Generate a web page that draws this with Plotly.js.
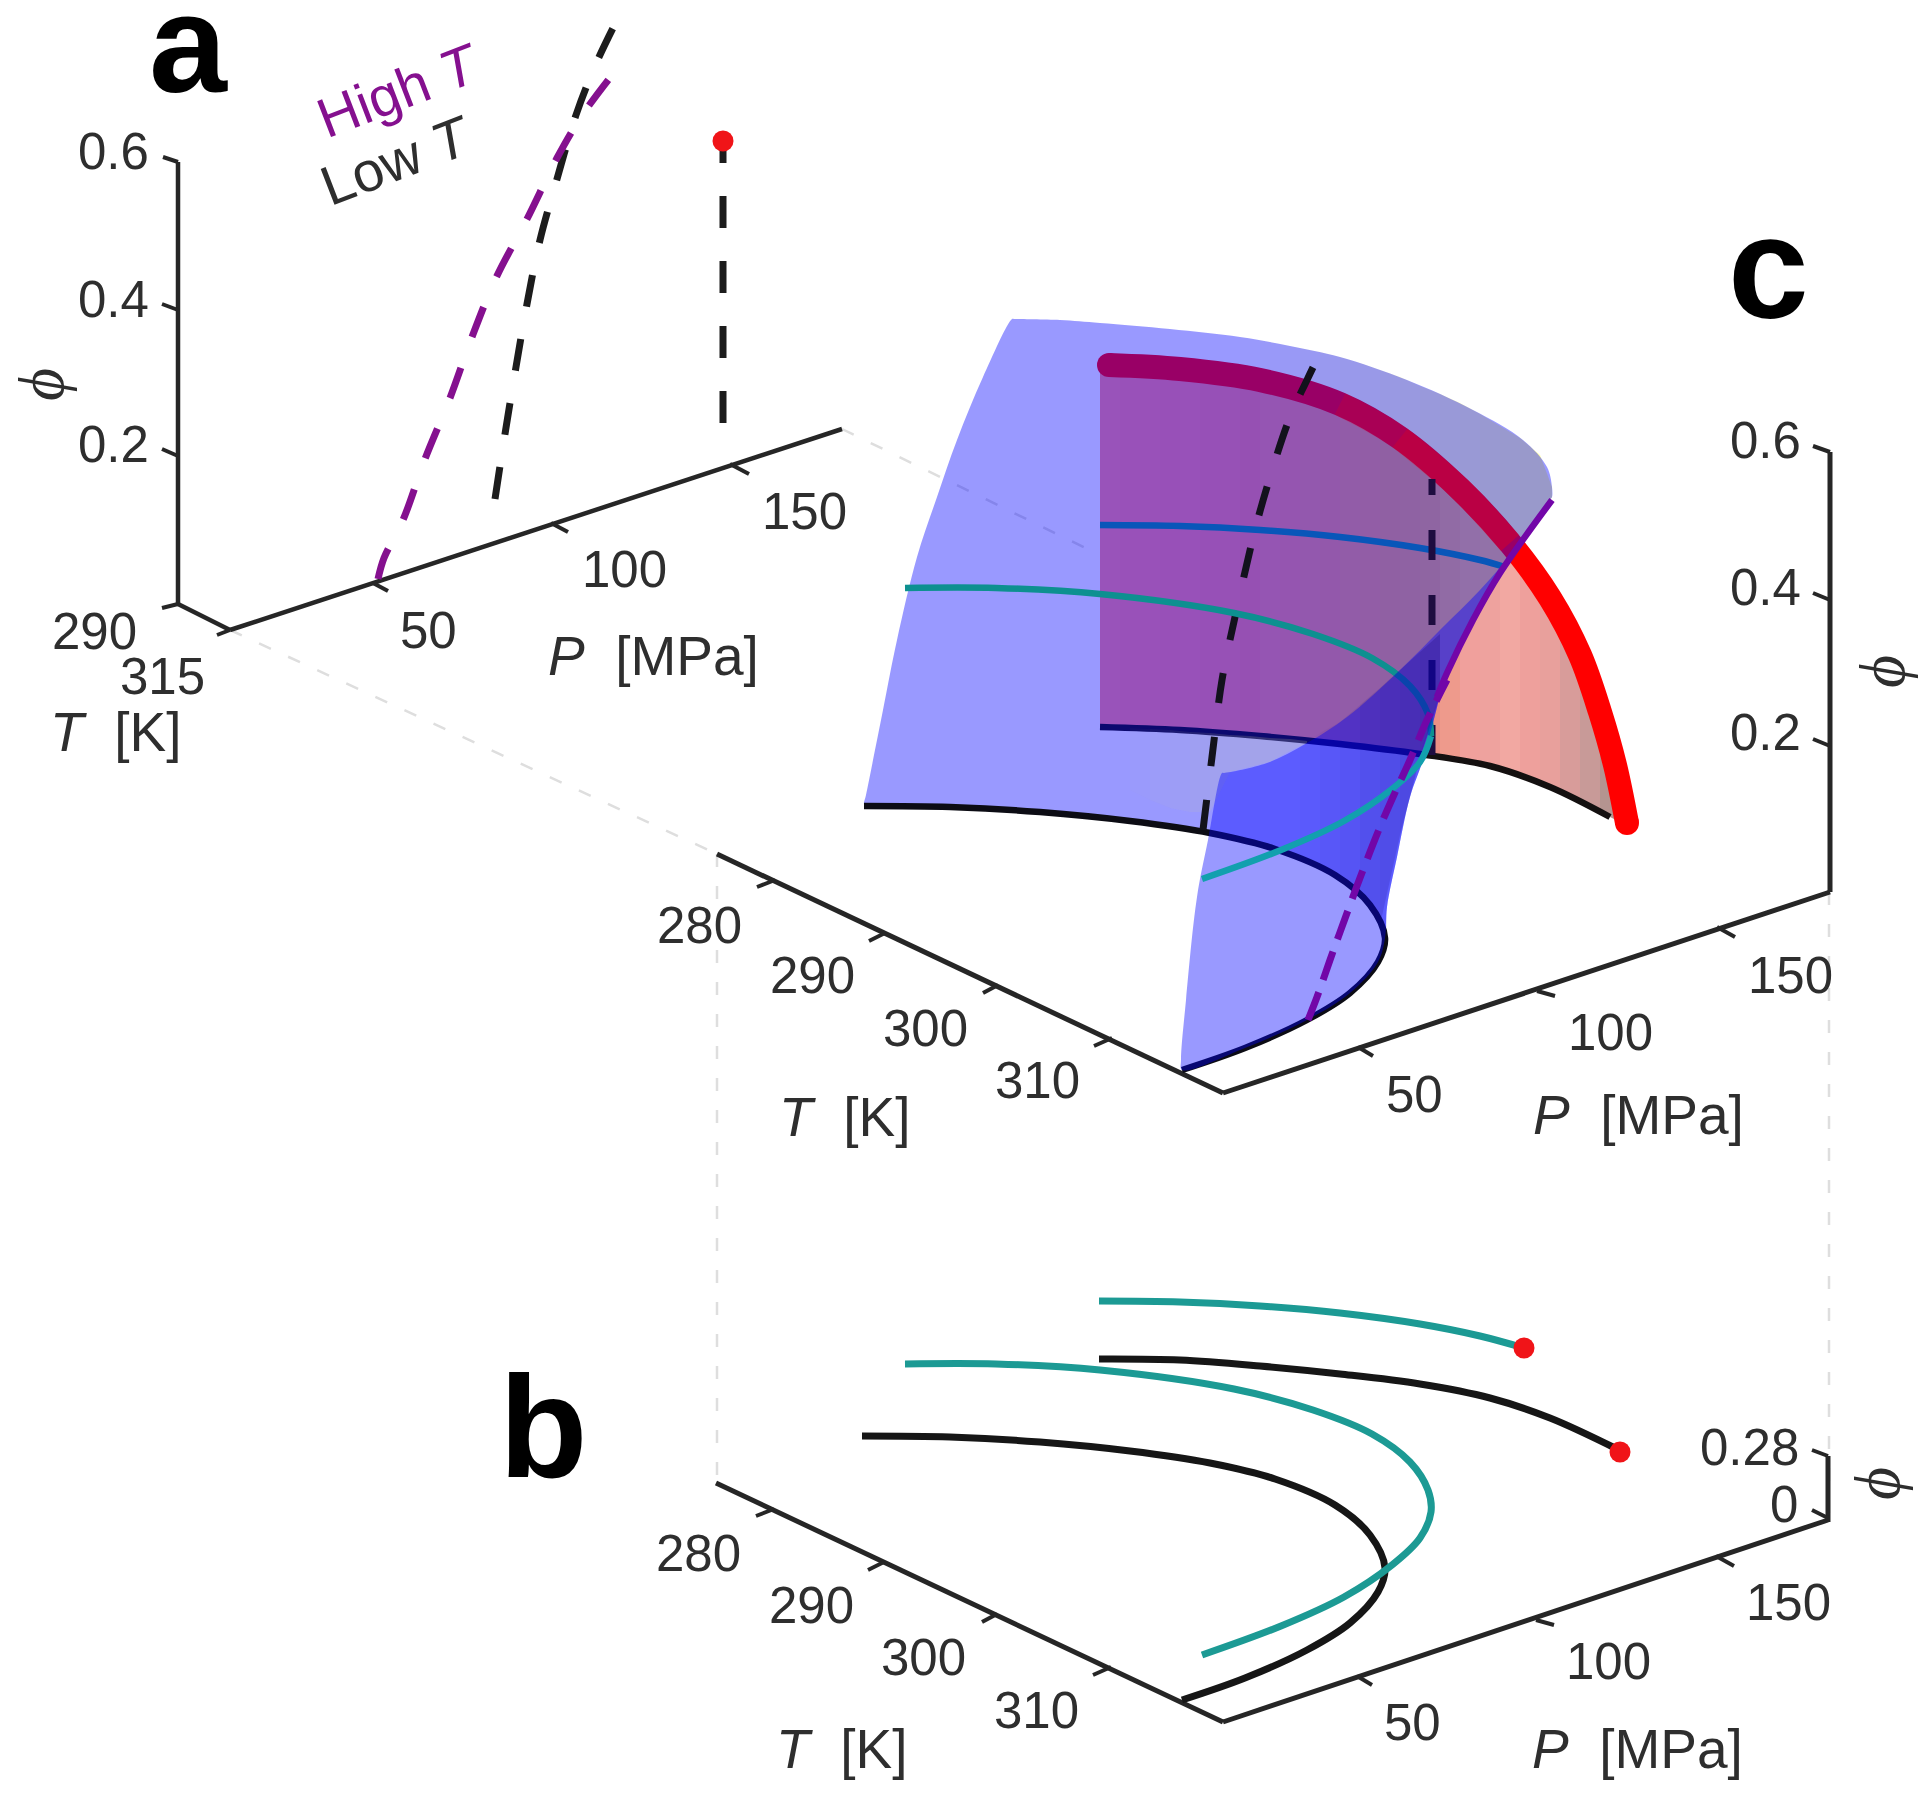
<!DOCTYPE html>
<html><head><meta charset="utf-8">
<script src="https://cdn.plot.ly/plotly-3.0.1.min.js"></script>
<style>html,body{margin:0;padding:0;background:#fff}#g{width:1920px;height:1793px;filter:blur(0.6px)}</style></head>
<body><div id="g"></div>
<script>
// ---- tick labels
const phiTicksA=['0.6','0.4','0.2'], phiTicksC=['0.6','0.4','0.2'], phiTicksB=['0.28','0'];
const pTicks=['50','100','150'], tTicksA=['290','315'], tTicksLong=['280','290','300','310'];

// ---- panel a: axes
const aPhiAxisX=[178,178], aPhiAxisY=[162,604];
const aTAxisX=[178,230], aTAxisY=[604,630];
const aPAxisX=[230,842], aPAxisY=[630,429];
const aTicksX=[163,178,null,162,178,null,162,178,null,162,178,null,217,230,null,373,388,null,551,568,null,730,749];
const aTicksY=[157,162,null,304,310,null,449,456,null,608,604,null,635,630,null,583,591,null,523,532,null,464,474];
// ---- panel a: curves
const aHighX=[378,384,403,425,450,472,496,527,557,581,609];
const aHighY=[579,558,520,459,398,337,278,219,158,117,79];
const aLowX=[495,505,516,527,540,557,576,595,613];
const aLowY=[499,434,367,304,240,179,115,66,28];
const aCritX=[723,723], aCritY=[423,141];

// ---- panel c: axes
const cTAxisX=[717,1223], cTAxisY=[854,1093];
const cPAxisX=[1223,1830], cPAxisY=[1093,892];
const cPhiAxisX=[1830,1830], cPhiAxisY=[892,452];
const cTicksX=[775,757,null,885,869,null,998,983,null,1112,1094,null,1358,1373,null,1537,1555,null,1717,1735,null,1813,1830,null,1813,1830,null,1813,1830];
const cTicksY=[880,887,null,933,941,null,985,993,null,1038,1046,null,1047,1056,null,991,996,null,927,937,null,446,452,null,593,600,null,739,746];
// ---- panel c: curtain under the critical line
const curtainX=[1100,1120,1140,1160,1180,1200,1220,1240,1260,1280,1300,1320,1340,1360,1380,1400,1420,1440,1460,1480,1500,1520,1540,1560,1580,1600,1620];
const curtainTop=[365,366,367,368,369,371,373,376,380,384,388,396,404,415,426,440,455,472,491,511,532,556,583,618,660,725,803];
const curtainBottom=[727,727,728,729,731,732,733,735,736,738,740,742,744,746,749,751,754,757,760,764,770,776,784,793,802,812,822];
const curtainColors=['#ff8a8c','#ff878b','#ff888a','#fe8689','#fd888a','#fc8588','#fc8786','#fa8484','#f98a86','#f88784','#f68a84','#f58782','#f28a80','#f18a7e','#ee8c7e','#ec8c80','#eb9084','#ee9a8c','#f0a09c','#eea29e','#f2a8a2','#eea09c','#e8a09c','#d89c9a','#c89a98','#b49490'];
// ---- panel c: sheets
const backSheetX=[1012,1014,1060,1100,1170,1240,1290,1340,1407,1473,1523,1547,1552,1552,1551,1523,1500,1473,1447,1433,1423,1410,1397,1387,1385,1373,1335,1275,1210,1130,1040,950,866,864,866,883,897,917,937,957,983,1012];
const backSheetY=[319,319,320,323,329,337,346,357,380,410,440,467,487,497,498,540,570,617,673,723,760,797,857,907,938,905,875,849,833,821,812,807,806,804,795,710,640,557,497,440,377,319];
const frontSheetX=[1552,1551,1523,1500,1473,1447,1433,1423,1410,1397,1387,1385,1378,1350,1307,1245,1182,1181,1186,1197,1208,1222,1224,1267,1307,1347,1400,1440,1480,1520,1552];
const frontSheetY=[497,498,540,570,617,673,723,760,797,857,907,938,962,993,1020,1048,1070,1060,1000,897,840,773,773,763,743,717,670,630,590,543,497];
// ---- panel c: yellow-grey tint columns under the back sheet
const tintX=[1240,1260,1280,1300,1320,1340,1360,1380,1400,1420,1440,1460,1480,1500,1520,1540,1552];
const tintTop=[337,340,344,348,352,357,363,370,377,386,394,403,414,426,438,455,487];
const tintBottom=[735,736,738,740,742,744,746,749,751,754,690,645,605,570,543,516,497];
const tintAlpha=[0.02,0.04,0.06,0.08,0.1,0.13,0.15,0.18,0.2,0.23,0.25,0.27,0.3,0.32,0.34,0.36];
const lilacX=[1130,1150,1170,1190,1210,1230,1250,1270,1290,1307];
const lilacTop=[728,729,730,732,733,735,736,738,739,741];
const lilacBottom=[790,800,808,812,812,772,767,762,751,743];
const lilacAlpha=[0.03,0.06,0.09,0.12,0.15,0.18,0.2,0.2,0.2];
// ---- panel c: darker fold columns on the front sheet
const indigoX=[1300,1320,1340,1360,1380,1400,1420,1440];
const indigoTop=[746,733,722,705,688,670,652,634];
const indigoBottom=[862,867,877,895,925,835,758,695];
const indigoAlpha=[0.02,0.05,0.08,0.12,0.16,0.2,0.24];
// ---- panel c: curves
const cRedX=[1109,1180,1260,1340,1400,1460,1510,1550,1580,1600,1615,1627];
const cRedY=[365,369,380,404,438,489,543,598,655,712,765,823];
const cRedGlowAX=[1340,1400,1460,1510], cRedGlowAY=[404,438,489,543];
const cRedGlowBX=[1400,1460,1510], cRedGlowBY=[438,489,543];
const cBaseX=[1100,1180,1260,1340,1420,1490,1550,1610];
const cBaseY=[727,730,736,744,754,766,787,817];
const cTealUpX=[1100,1180,1260,1340,1420,1480,1505];
const cTealUpY=[525,526,530,537,548,560,567];
const cCritDashX=[1432,1432], cCritDashY=[755,479];
const cBlackX=[864,950,1040,1130,1210,1275,1335,1370,1385,1378,1350,1307,1245,1182];
const cBlackY=[806,807,812,821,833,849,875,905,938,962,993,1020,1048,1070];
const cLowDashX=[1203,1212,1222,1235,1253,1267,1290,1307,1320];
const cLowDashY=[830,757,680,617,538,487,417,380,353];
const cTealLowX=[905,996,1100,1234,1313,1372,1410,1428,1431];
const cTealLowY=[588,588,594,613,634,658,686,714,736];
const cTealFrontX=[1431,1420,1392,1344,1281,1202];
const cTealFrontY=[736,762,789,821,850,879];
const cPurpleX=[1552,1500,1473,1447,1437];
const cPurpleY=[500,573,620,673,697];
const cPurpleDashX=[1308,1317,1330,1347,1363,1380,1393,1410,1427,1447];
const cPurpleDashY=[1020,997,960,913,870,827,797,760,720,680];

// ---- panel b: axes
const bTAxisX=[716,1223], bTAxisY=[1483,1722];
const bPAxisX=[1223,1828], bPAxisY=[1722,1520];
const bPhiAxisX=[1828,1828], bPhiAxisY=[1522,1456];
const bTicksX=[774,756,null,884,868,null,997,982,null,1111,1093,null,1357,1372,null,1536,1554,null,1716,1734,null,1812,1828,null,1812,1828];
const bTicksY=[1509,1516,null,1562,1570,null,1614,1622,null,1667,1675,null,1676,1685,null,1620,1625,null,1556,1566,null,1450,1456,null,1510,1518];
// ---- panel b: curves
const bTealUpperX=[1099,1180,1260,1340,1420,1480,1524], bTealUpperY=[1301,1302,1306,1313,1324,1336,1348];
const bBlackUpperX=[1099,1180,1260,1340,1420,1490,1550,1617], bBlackUpperY=[1359,1360,1366,1374,1384,1398,1418,1449];
const bTealLowerX=[905,996,1100,1234,1313,1372,1410,1428,1431,1420,1392,1344,1281,1202];
const bTealLowerY=[1364,1364,1370,1389,1410,1434,1462,1490,1512,1538,1565,1597,1626,1655];
const bBlackLowerX=[862,950,1040,1130,1210,1275,1335,1370,1385,1378,1350,1307,1245,1182];
const bBlackLowerY=[1436,1437,1442,1451,1463,1479,1505,1535,1568,1592,1623,1650,1678,1700];
const bDotsX=[1524,1620], bDotsY=[1348,1452];

// ---- connectors between panels
const linkAX=[230,717], linkAY=[630,854];
const linkBX=[842,1100], linkBY=[429,555];
const linkCX=[717,717], linkCY=[854,1483];
const linkDX=[1829,1829], linkDY=[892,1520];

const AX='#262626', TEAL='#1c9a94', TXT='#2e2e2e';
const traces=[];
function ln(x,y,color,width,opt){opt=opt||{};
  traces.push({type:'scatter',mode:'lines',x:x,y:y,hoverinfo:'skip',connectgaps:false,
    line:{color:color,width:width,dash:opt.dash||'solid',shape:opt.spline?'spline':'linear',smoothing:1}});}
function fillPoly(x,y,color,spline){
  traces.push({type:'scatter',mode:'lines',x:x,y:y,fill:'toself',fillcolor:color,hoverinfo:'skip',
    line:{width:0,color:color,shape:spline?'spline':'linear',smoothing:1}});}
function dots(x,y,color,size){
  traces.push({type:'scatter',mode:'markers',x:x,y:y,hoverinfo:'skip',marker:{color:color,size:size,line:{width:0}}});}
function strips(x,top,bottom,colorOf,n){
  for(let i=0;i<n;i++){
    fillPoly([x[i],x[i+1],x[i+1],x[i],x[i]],[top[i],top[i+1],bottom[i+1],bottom[i],top[i]],colorOf(i));
  }
}

// connectors
const GREY='#dedede', GD='13px,19px';
ln(linkAX,linkAY,GREY,2.5,{dash:GD}); ln(linkBX,linkBY,GREY,2.5,{dash:GD});
ln(linkCX,linkCY,GREY,2.5,{dash:GD}); ln(linkDX,linkDY,GREY,2.5,{dash:GD});

// panel a
ln(aPhiAxisX,aPhiAxisY,AX,4.5); ln(aTAxisX,aTAxisY,AX,4.5); ln(aPAxisX,aPAxisY,AX,4.5); ln(aTicksX,aTicksY,AX,4);
ln(aLowX,aLowY,'#1c1c1c',7,{dash:'32px,33px',spline:true});
ln(aHighX,aHighY,'#85108f',7,{dash:'32px,33px',spline:true});
ln(aCritX,aCritY,'#1c1c1c',7,{dash:'32px,33px'});
dots([aCritX[1]],[aCritY[1]],'#f01418',21);

// panel c
ln(cTAxisX,cTAxisY,AX,5); ln(cPAxisX,cPAxisY,AX,5); ln(cPhiAxisX,cPhiAxisY,AX,5); ln(cTicksX,cTicksY,AX,4);
strips(curtainX,curtainTop,curtainBottom,i=>curtainColors[i],curtainColors.length);
strips(tintX,tintTop,tintBottom,i=>'rgba(255,255,0,'+tintAlpha[i]+')',tintAlpha.length);
ln(cBaseX,cBaseY,'#141010',6.5,{spline:true});
ln(cTealUpX,cTealUpY,'#0f8f8a',6.5,{spline:true});
ln(cRedX,cRedY,'#ff0000',24,{spline:true});
dots([cRedX[0],cRedX[cRedX.length-1]],[cRedY[0],cRedY[cRedY.length-1]],'#ff0000',24);
fillPoly(backSheetX,backSheetY,'rgba(0,0,255,0.4)',true);
ln(cRedGlowAX,cRedGlowAY,'rgba(255,0,0,0.16)',24,{spline:true});
ln(cRedGlowBX,cRedGlowBY,'rgba(255,0,0,0.2)',24,{spline:true});
strips(lilacX,lilacTop,lilacBottom,i=>'rgba(205,205,150,'+lilacAlpha[i]+')',lilacAlpha.length);
ln(cBlackX,cBlackY,'#0c0c14',6.5,{spline:true});
ln(cCritDashX,cCritDashY,'#1e0c40',7,{dash:'30px,35px'});
ln(cLowDashX,cLowDashY,'#12121c',7,{dash:'30px,34px',spline:true});
ln(cTealLowX,cTealLowY,'#0d9090',6.5,{spline:true});
fillPoly(frontSheetX,frontSheetY,'rgba(0,0,255,0.4)',true);
strips(indigoX,indigoTop,indigoBottom,i=>'rgba(20,0,110,'+indigoAlpha[i]+')',indigoAlpha.length);
ln(cTealFrontX,cTealFrontY,'#12a0ae',6.5,{spline:true});
ln(cPurpleX,cPurpleY,'#7206a8',6.5,{spline:true});
ln(cPurpleDashX,cPurpleDashY,'#7206a8',7,{dash:'30px,13px',spline:true});

// panel b
ln(bTAxisX,bTAxisY,AX,5); ln(bPAxisX,bPAxisY,AX,5); ln(bPhiAxisX,bPhiAxisY,AX,5); ln(bTicksX,bTicksY,AX,4);
ln(bBlackUpperX,bBlackUpperY,'#161616',7,{spline:true});
ln(bBlackLowerX,bBlackLowerY,'#161616',7,{spline:true});
ln(bTealLowerX,bTealLowerY,TEAL,7,{spline:true});
ln(bTealUpperX,bTealUpperY,TEAL,7,{spline:true});
dots(bDotsX,bDotsY,'#f01418',21);

// texts
const F='"Liberation Sans", Arial, sans-serif';
const anns=[];
function tx(x,y,t,o){o=o||{};anns.push({x:x,y:y,xref:'x',yref:'y',text:t,showarrow:false,xanchor:'center',yanchor:'middle',
  textangle:o.a||0,font:{family:o.f||F,size:o.s||51,color:o.c||TXT}});}
const PHI='<i>\u03D5</i>';
const TK='<i>T</i>\u00A0 [K]', PM='<i>P</i>\u00A0 [MPa]';
const TS={s:55}, PS={s:64,a:-90,f:'"Liberation Serif", serif'};
// a
[151,299,444].forEach((y,i)=>tx(113,y,phiTicksA[i]));
[[428,630],[624,569],[804,511]].forEach((p,i)=>tx(p[0],p[1],pTicks[i]));
tx(94,631,tTicksA[0]); tx(162,676,tTicksA[1]);
tx(115,732,TK,TS); tx(653,656,PM,TS); tx(41,385,PHI,PS);
tx(398,90,'High <i>T</i>',{a:-21,c:'#85108f',s:56}); tx(396,160,'Low <i>T</i>',{a:-21,c:'#2e2e2e',s:56});
// c
[440,587,732].forEach((y,i)=>tx(1765,y,phiTicksC[i]));
[[1414,1094],[1610,1032],[1790,975]].forEach((p,i)=>tx(p[0],p[1],pTicks[i]));
[[699,925],[812,975],[925,1028],[1037,1080]].forEach((p,i)=>tx(p[0],p[1],tTicksLong[i]));
tx(844,1117,TK,TS); tx(1638,1115,PM,TS); tx(1882,672,PHI,PS);
// b
[[698,1553],[811,1605],[923,1657],[1036,1710]].forEach((p,i)=>tx(p[0],p[1],tTicksLong[i]));
[[1412,1722],[1608,1661],[1788,1602]].forEach((p,i)=>tx(p[0],p[1],pTicks[i]));
tx(1749,1447,phiTicksB[0]); tx(1784,1504,phiTicksB[1]);
tx(841,1749,TK,TS); tx(1637,1749,PM,TS); tx(1877,1484,PHI,PS);
// panel letters
tx(188,43,'<b>a</b>',{s:140,c:'#000'}); tx(543,1427,'<b>b</b>',{s:145,c:'#000'}); tx(1768,268,'<b>c</b>',{s:145,c:'#000'});

const hidden={visible:false,showgrid:false,zeroline:false,fixedrange:true};
Plotly.newPlot('g',traces,{
  width:1920,height:1793,margin:{l:0,r:0,t:0,b:0},showlegend:false,hovermode:false,
  paper_bgcolor:'#fff',plot_bgcolor:'#fff',
  xaxis:Object.assign({},hidden,{range:[0,1920]}),
  yaxis:Object.assign({},hidden,{range:[1793,0]}),
  annotations:anns
},{displayModeBar:false,staticPlot:true});
</script></body></html>
